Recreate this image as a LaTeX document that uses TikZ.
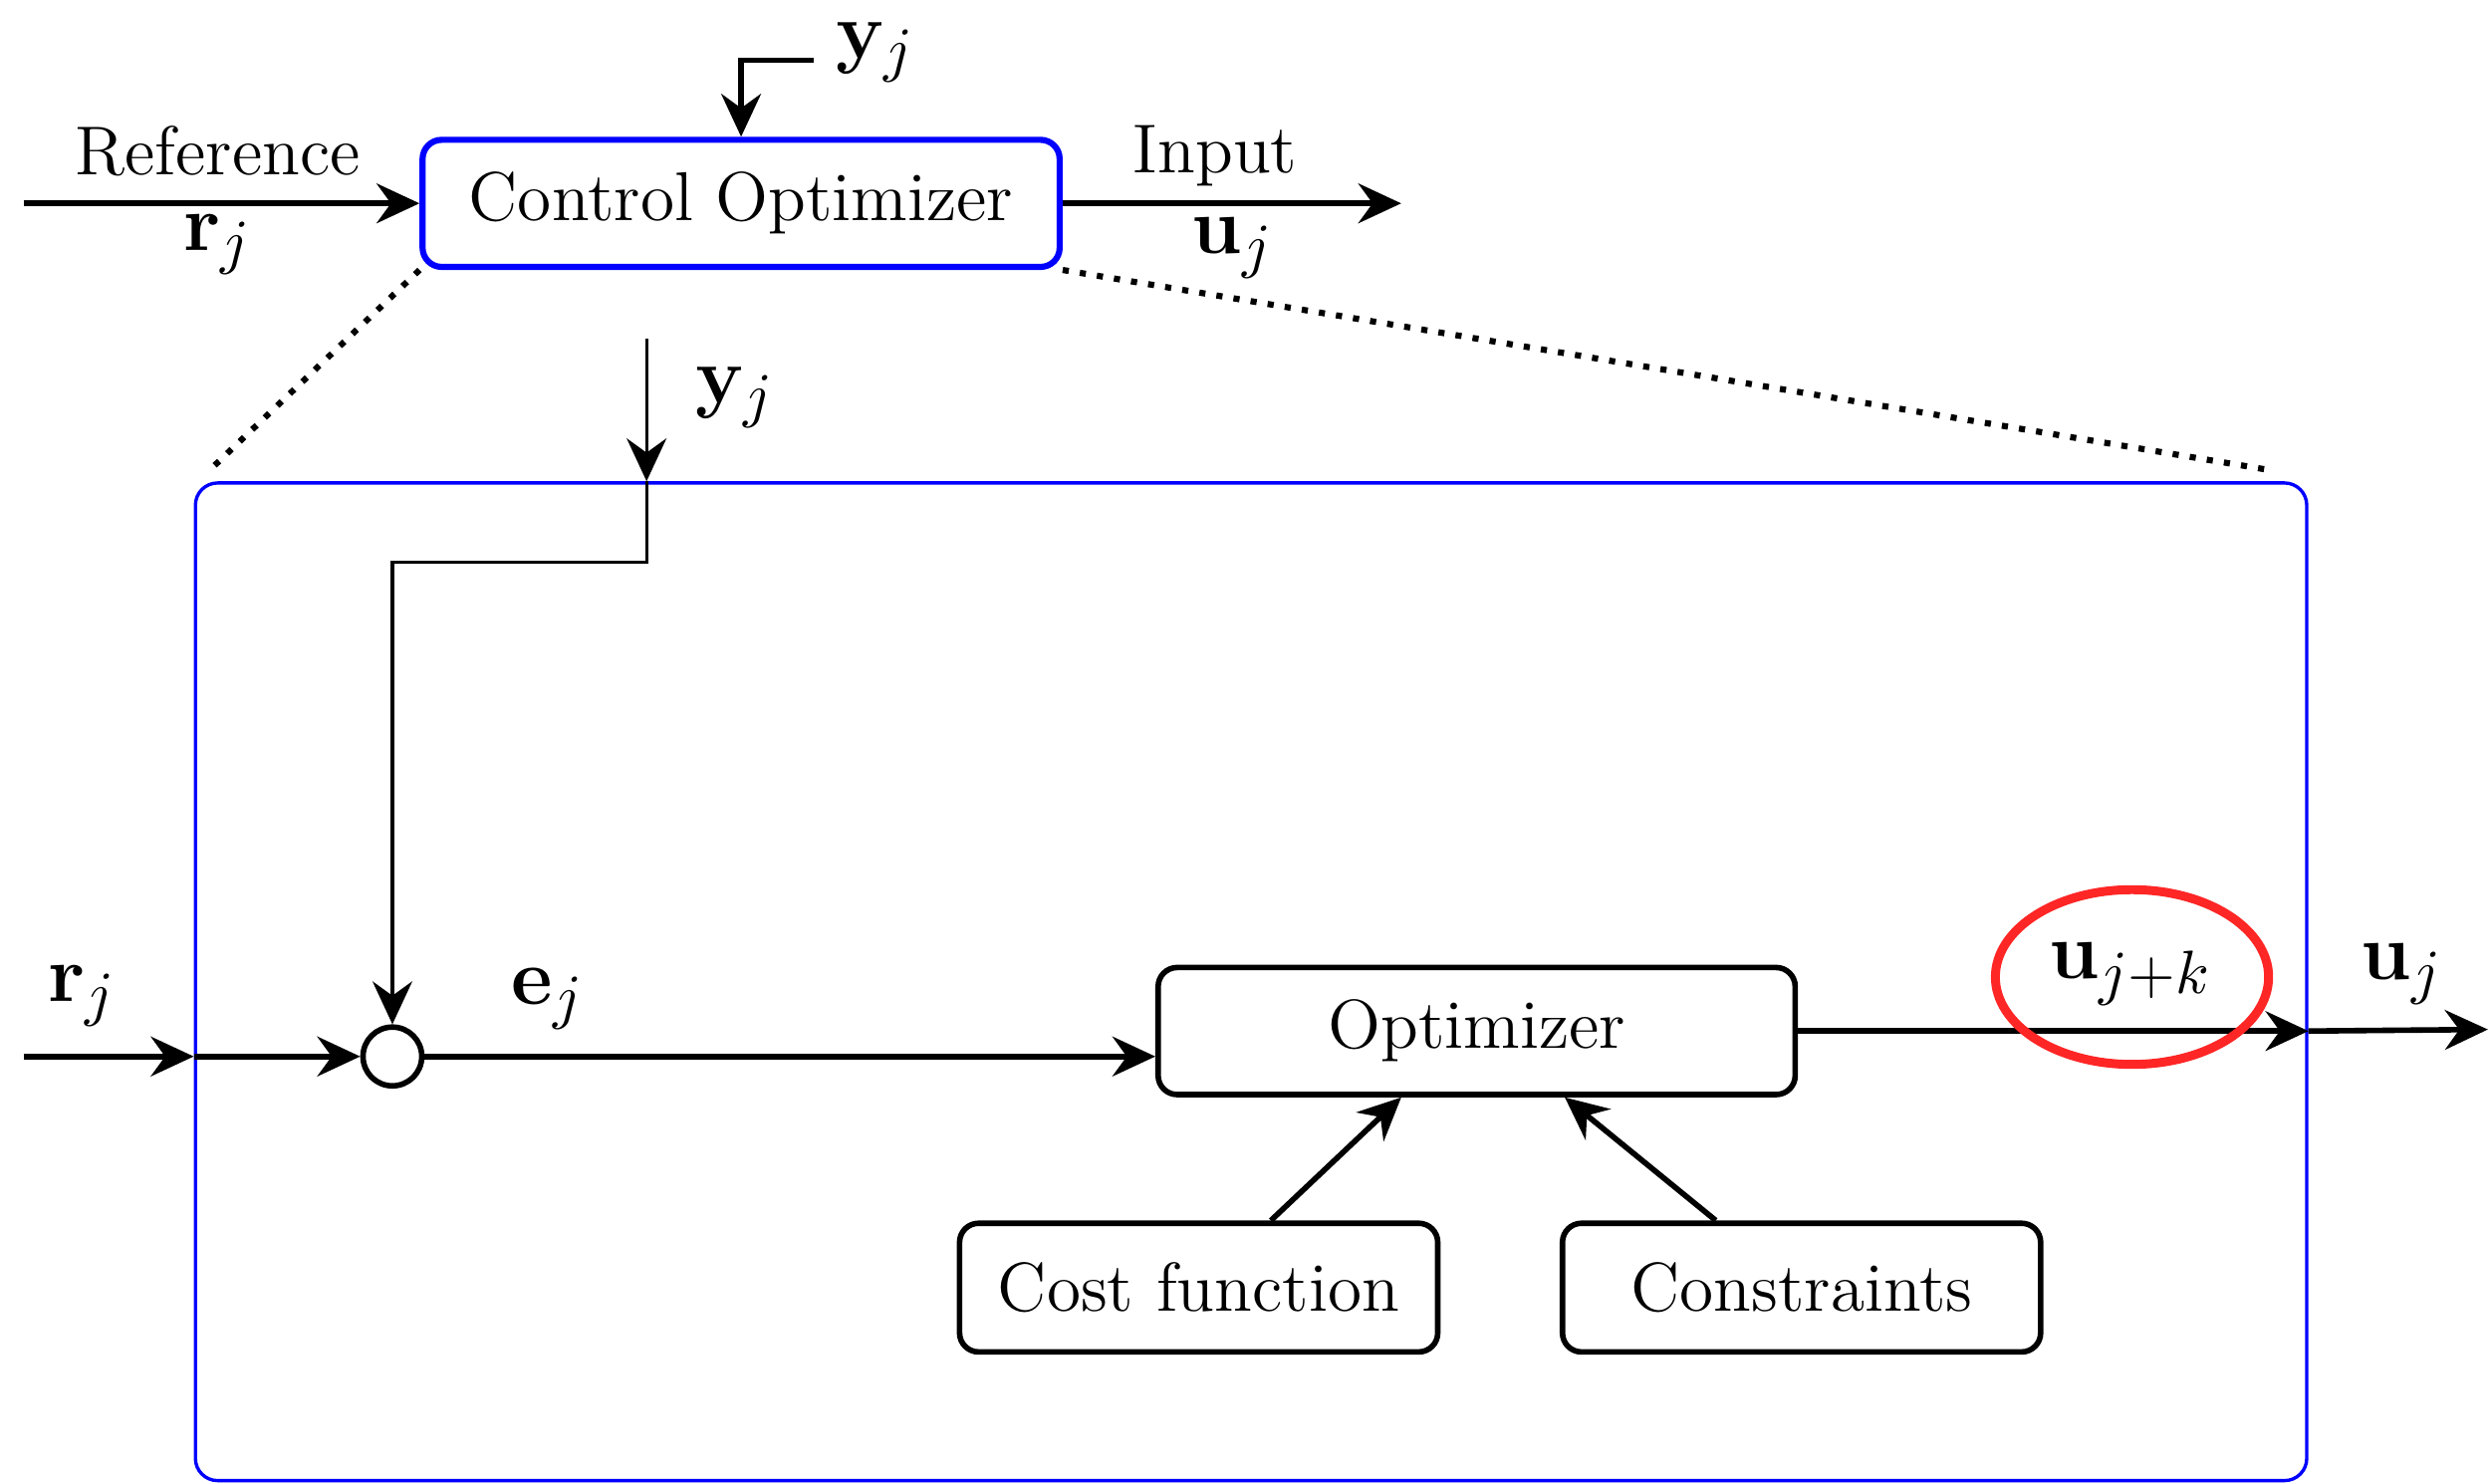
\documentclass[tikz,border=0pt]{standalone}
\usepackage{amsmath, amssymb, amsfonts, tikz}
\usetikzlibrary{arrows.meta, shapes.geometric}

\tikzset{
    block/.style={draw, line width=1pt, rounded corners=0.12cm, minimum width=4.01cm, minimum height=0.8cm, inner sep=0pt},
    smallblock/.style={block, minimum width=3.01cm, minimum height=0.81cm},
    sumnode/.style={draw, line width=1pt, circle, minimum size=0.37cm, inner sep=0pt},
    signal/.style={->, line width=1pt},
    lbl/.style={inner sep=0pt},
    mathlbl/.style={inner sep=0pt, font=\fontsize{15.5}{18}\selectfont}
}

\begin{document}
\begin{tikzpicture}[font=\fontsize{12.4}{15}\selectfont, >={Stealth[length=2.7mm, width=2.5mm, inset=0.9mm]}]
        \useasboundingbox (0,0) rectangle (15.68,-9.34);

        % 1. Compact block: the control optimizer with its signals
        \node[block, draw=blue, line width=1.1pt] (ctrl) at (4.665,-1.28) {Control Optimizer};
        \coordinate (refin) at (0.15,-1.28);
        \coordinate (inpout) at (8.82,-1.28);
        \coordinate (ymeas) at (5.12,-0.38);
        \draw[signal] (refin) -- (ctrl.west);
        \draw[signal] (ctrl.east) -- (inpout);
        \draw[signal] (ymeas) -| (ctrl.north);
        \node[lbl] (reftxt) at (1.37,-0.95) {Reference};
        \node[mathlbl] (rtop) at (1.37,-1.54) {$\mathbf{r}_j$};
        \node[lbl] (inptxt) at (7.65,-0.98) {Input};
        \node[mathlbl] (utop) at (7.76,-1.56) {$\mathbf{u}_j$};
        \node[mathlbl] (ytop) at (5.51,-0.33) {$\mathbf{y}_j$};

        % 2. Expanded view of the block
        \node[draw=blue, line width=0.6pt, rounded corners=0.14cm, minimum width=13.29cm, minimum height=6.28cm, inner sep=0pt] (frame) at (7.875,-6.18) {};
        \draw[dotted, line width=1.1pt] (ctrl.south west) -- ([shift={(0.1,0.07)}]frame.north west);
        \draw[dotted, line width=1.1pt] (ctrl.south east) -- ([shift={(-0.24,0.07)}]frame.north east);

        % 3. Blocks inside
        \node[sumnode] (sum) at (2.47,-6.65) {};
        \node[block] (opt) at (9.295,-6.49) {Optimizer};
        \node[smallblock] (cost) at (7.545,-8.105) {Cost function};
        \node[smallblock] (cons) at (11.34,-8.105) {Constraints};

        % 4. Signals inside
        \coordinate (yfb) at (4.07,-2.13);
        \coordinate (bend) at (4.07,-3.54);
        \coordinate (rin) at (0.15,-6.65);
        \coordinate (uout) at (15.66,-6.48);
        \draw[->, line width=0.6pt] (yfb) -- (yfb |- frame.north);
        \draw[->, line width=0.6pt] (yfb |- frame.north) -- (bend) -| (sum.north);
        \draw[signal] (rin) -- (rin -| frame.west);
        \draw[signal] (rin -| frame.west) -- (sum.west);
        \draw[signal] (sum.east) -- (opt.west |- sum.east);
        \draw[signal] (opt.east) -- (frame.east |- opt.east);
        \draw[signal] (frame.east |- opt.east) -- (uout);
        \draw[signal] ([xshift=0.455cm]cost.north) -- ([xshift=-0.475cm]opt.south);
        \draw[signal] ([xshift=-0.54cm]cons.north) -- ([xshift=0.555cm]opt.south);

        \node[mathlbl] (yin) at (4.63,-2.50) {$\mathbf{y}_j$};
        \node[mathlbl] (rlbl) at (0.52,-6.27) {$\mathbf{r}_j$};
        \node[mathlbl] (elbl) at (3.45,-6.29) {$\mathbf{e}_j$};
        \node[mathlbl] (ukl) at (13.41,-6.13) {$\mathbf{u}_{j+k}$};
        \node[mathlbl] (ulbl) at (15.12,-6.13) {$\mathbf{u}_j$};

        % 5. Highlight
        \node[draw=red!85!white, line width=1.6pt, ellipse, minimum width=1.72cm, minimum height=1.1cm] (hl) at (13.42,-6.15) {};

    \end{tikzpicture}
\end{document}
